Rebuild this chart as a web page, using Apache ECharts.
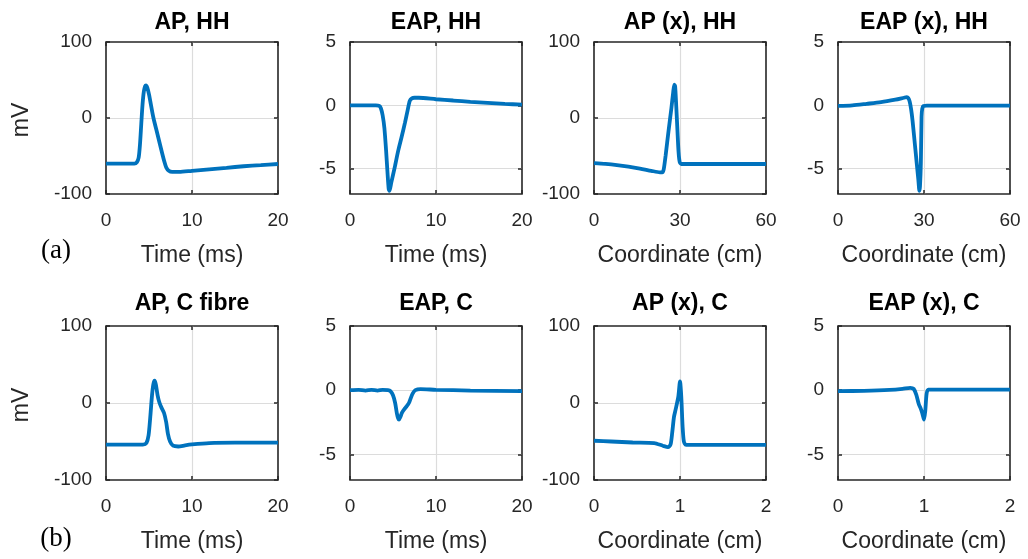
<!DOCTYPE html>
<html><head><meta charset="utf-8">
<script src="https://cdn.jsdelivr.net/npm/echarts@6/dist/echarts.min.js"></script>
<style>html,body{margin:0;padding:0;background:#fff}#c{width:1028px;height:559px}</style>
</head><body><div id="c"></div>
<script>
// ---- texts ----
const titles = ['AP, HH','EAP, HH','AP (x), HH','EAP (x), HH','AP, C fibre','EAP, C','AP (x), C','EAP (x), C'];
const xNames = ['Time (ms)','Time (ms)','Coordinate (cm)','Coordinate (cm)','Time (ms)','Time (ms)','Coordinate (cm)','Coordinate (cm)'];
const rowLabels = ['(a)','(b)'];
const yUnit = 'mV';

// ---- tick values ----
const xTicksTime = [0,10,20];
const xTicksHHx = [0,30,60];
const xTicksCx = [0,1,2];
const yTicksAP = [-100,0,100];
const yTicksEAP = [-5,0,5];
const yRangeAP = [-100,100];
const yRangeEAP = [-7,5];

// ---- data ----
// (a) HH
const tHH = [0,2,3.3,3.6,3.8,3.95,4.1,4.25,4.4,4.55,4.65,4.8,5.0,5.5,6.0,6.5,6.8,7.0,7.3,7.7,8.5,10,12,14,16,18,20];
const apHH = [-60,-60,-60,-58,-52,-35,-8,18,35,42,43,40,31,1,-22,-45,-58,-65,-69.5,-71,-71,-69.5,-67.5,-65.5,-63.5,-62,-60.5];

const tEapHH = [0,3,3.4,3.6,3.8,4.0,4.2,4.35,4.5,4.6,4.8,5.2,5.6,6.0,6.4,6.7,6.95,7.2,7.5,8,10,12,14,16,18,20];
const eapHH = [0,0,-0.05,-0.25,-0.8,-1.8,-3.6,-5.2,-6.6,-6.75,-6.1,-4.9,-3.6,-2.5,-1.35,-0.4,0.35,0.55,0.6,0.6,0.48,0.38,0.28,0.2,0.12,0.05];

const xApHH = [0,4,8,12,16,20,23,23.8,24.3,25,26,27,27.6,28,28.3,28.7,29.1,29.5,29.9,30.5,35,45,60];
const apxHH = [-59.5,-60.5,-62,-64,-66.5,-69.5,-71.5,-71.5,-68,-49,-17,13,33,44,42,15,-16,-45,-58,-60.5,-60.5,-60.5,-60.5];

const xEapHH = [0,5,10,15,20,23,24,24.5,25,25.5,26,27,28,28.4,28.6,28.9,29.15,29.4,29.8,31,45,60];
const eapxHH = [-0.05,0,0.12,0.25,0.45,0.6,0.65,0.58,0.3,-0.3,-1.2,-3.5,-5.8,-6.75,-6.4,-4.6,-0.9,-0.25,-0.05,-0.03,-0.03,-0.03];

// (b) C fibre
const tC = [0,3,4.3,4.7,4.95,5.15,5.35,5.5,5.65,5.8,6.0,6.2,6.45,6.75,7.0,7.2,7.45,7.8,8.4,9.2,10,12,15,20];
const apC = [-54,-54,-54,-52,-42,-18,10,24,29,24,10,1,-6,-13,-25,-40,-50,-55.5,-56.5,-55,-53.8,-52,-51.5,-51.5];

const tEapC = [0,1,1.8,2.5,3.2,3.8,4.4,4.7,5.0,5.25,5.45,5.6,5.7,5.85,6.05,6.3,6.6,6.85,7.05,7.3,7.6,8.2,10,14,20];
const eapC = [0,0.02,-0.03,0.03,-0.03,0.02,0,-0.08,-0.4,-1.0,-1.8,-2.2,-2.3,-2.1,-1.75,-1.5,-1.25,-1.0,-0.65,-0.25,0,0.08,0.03,-0.03,-0.07];

const xApC = [0,0.2,0.45,0.7,0.8,0.86,0.89,0.91,0.93,0.95,0.98,1.0,1.015,1.03,1.045,1.07,1.2,2];
const apxC = [-49,-50,-51.3,-52,-55.5,-57.4,-54,-38,-18,-8,8,28,8,-30,-50,-54.5,-54.5,-54.5];

const xEapC = [0,0.3,0.6,0.75,0.84,0.88,0.91,0.94,0.96,0.98,1.0,1.015,1.03,1.05,1.2,2];
const eapxC = [-0.08,-0.05,0.02,0.1,0.18,0.1,-0.35,-1.1,-1.4,-1.8,-2.3,-1.6,-0.3,0.05,0.05,0.05];

// ---- panel assembly ----
const panels = [
  {x:tHH, y:apHH, xt:xTicksTime, yt:yTicksAP, yr:yRangeAP},
  {x:tEapHH, y:eapHH, xt:xTicksTime, yt:yTicksEAP, yr:yRangeEAP},
  {x:xApHH, y:apxHH, xt:xTicksHHx, yt:yTicksAP, yr:yRangeAP},
  {x:xEapHH, y:eapxHH, xt:xTicksHHx, yt:yTicksEAP, yr:yRangeEAP},
  {x:tC, y:apC, xt:xTicksTime, yt:yTicksAP, yr:yRangeAP},
  {x:tEapC, y:eapC, xt:xTicksTime, yt:yTicksEAP, yr:yRangeEAP},
  {x:xApC, y:apxC, xt:xTicksCx, yt:yTicksAP, yr:yRangeAP},
  {x:xEapC, y:eapxC, xt:xTicksCx, yt:yTicksEAP, yr:yRangeEAP}
];

// ---- layout ----
const colLeft = [106,350,594,838];
const colW = 172;
const rowTop = [42,326];
const rowH = [152,154];
const FONT = '"Liberation Sans", Arial, Helvetica, sans-serif';
const LINE = '#0072BD';
const AX = '#262626';
const GRIDC = '#dcdcdc';

const grid = [], xAxis = [], yAxis = [], series = [], graphic = [];
panels.forEach((p, i) => {
  const r = Math.floor(i/4), c = i%4;
  grid.push({left: colLeft[c], top: rowTop[r], width: colW, height: rowH[r],
    show: true, borderColor: AX, borderWidth: 1.6, backgroundColor: 'transparent', containLabel: false});
});
const tickStyle = {show:true, inside:true, length:4, lineStyle:{color:AX, width:1.5}};
panels.forEach((p, i) => {
  const xmin = p.xt[0], xmax = p.xt[p.xt.length-1], xint = p.xt[1]-p.xt[0];
  xAxis.push({type:'value', gridIndex:i, min:xmin, max:xmax, interval:xint, position:'bottom',
    name: xNames[i], nameLocation:'middle', nameGap: 50,
    nameTextStyle:{fontFamily:FONT, fontSize:23, color:AX},
    axisLine:{show:false, onZero:false}, splitLine:{show:false},
    axisTick: Object.assign({}, tickStyle),
    axisLabel:{fontFamily:FONT, fontSize:19, color:AX, margin:17, showMinLabel:true, showMaxLabel:true}});
  const yIsAP = p.yr === yRangeAP;
  const yCfg = {type:'value', gridIndex:i, min:p.yr[0], max:p.yr[1], position:'left',
    axisLine:{show:false, onZero:false}, splitLine:{show:false},
    axisTick: Object.assign({}, tickStyle),
    axisLabel:{fontFamily:FONT, fontSize:19, color:AX, margin:14, showMinLabel:true, showMaxLabel:true}};
  if (yIsAP) { yCfg.interval = p.yt[1]-p.yt[0]; }
  else { yCfg.axisLabel.customValues = p.yt; yCfg.axisTick.customValues = p.yt; }
  yAxis.push(yCfg);
});
// mirror axes for top/right ticks
panels.forEach((p, i) => {
  const xmin = p.xt[0], xmax = p.xt[p.xt.length-1], xint = p.xt[1]-p.xt[0];
  xAxis.push({type:'value', gridIndex:i, min:xmin, max:xmax, interval:xint, position:'top',
    axisLine:{show:false, onZero:false}, splitLine:{show:false}, axisLabel:{show:false},
    axisTick: Object.assign({}, tickStyle)});
  const yIsAP = p.yr === yRangeAP;
  const yCfg = {type:'value', gridIndex:i, min:p.yr[0], max:p.yr[1], position:'right',
    axisLine:{show:false, onZero:false}, splitLine:{show:false}, axisLabel:{show:false},
    axisTick: Object.assign({}, tickStyle)};
  if (yIsAP) { yCfg.interval = p.yt[1]-p.yt[0]; }
  else { yCfg.axisTick.customValues = p.yt; yCfg.axisLabel.customValues = p.yt; }
  yAxis.push(yCfg);
});
// gridlines (interior ticks) and curves
panels.forEach((p, i) => {
  const ml = [];
  p.xt.forEach(v => { if (v > p.xt[0] && v < p.xt[p.xt.length-1]) ml.push({xAxis: v}); });
  p.yt.forEach(v => { if (v > p.yr[0] && v < p.yr[1]) ml.push({yAxis: v}); });
  series.push({type:'line', xAxisIndex:i, yAxisIndex:i, data:[], z:0, silent:true,
    markLine:{silent:true, z:0, symbol:['none','none'], label:{show:false}, animation:false,
      lineStyle:{color:GRIDC, width:1.2, type:'solid'}, emphasis:{disabled:true}, data: ml}});
  series.push({type:'line', xAxisIndex:i, yAxisIndex:i, z:10,
    data: p.x.map((v, k) => [v, p.y[k]]),
    showSymbol:false, smooth:0.25, clip:true,
    lineStyle:{color:LINE, width:3.8}, itemStyle:{color:LINE}});
});
// titles and extra texts
panels.forEach((p, i) => {
  const r = Math.floor(i/4), c = i%4;
  graphic.push({type:'text', x: colLeft[c] + colW/2, y: r === 0 ? 22.5 : 304,
    style:{text: titles[i], fill:'#000', font:'bold 23px ' + FONT, textAlign:'center', textVerticalAlign:'middle'}});
});
[120, 405].forEach(yc => {
  graphic.push({type:'text', x: 22, y: yc, rotation: Math.PI/2,
    style:{text: yUnit, fill:AX, font:'23px ' + FONT, textAlign:'center', textVerticalAlign:'middle'}});
});
[251, 539].forEach((yc, k) => {
  graphic.push({type:'text', x: 56, y: yc,
    style:{text: rowLabels[k], fill:'#000', font:'27px "Liberation Serif", "Times New Roman", serif', textAlign:'center', textVerticalAlign:'middle'}});
});

const chart = echarts.init(document.getElementById('c'), null, {renderer:'canvas'});
chart.setOption({animation:false, backgroundColor:'#fff', grid, xAxis, yAxis, series, graphic});
</script></body></html>
